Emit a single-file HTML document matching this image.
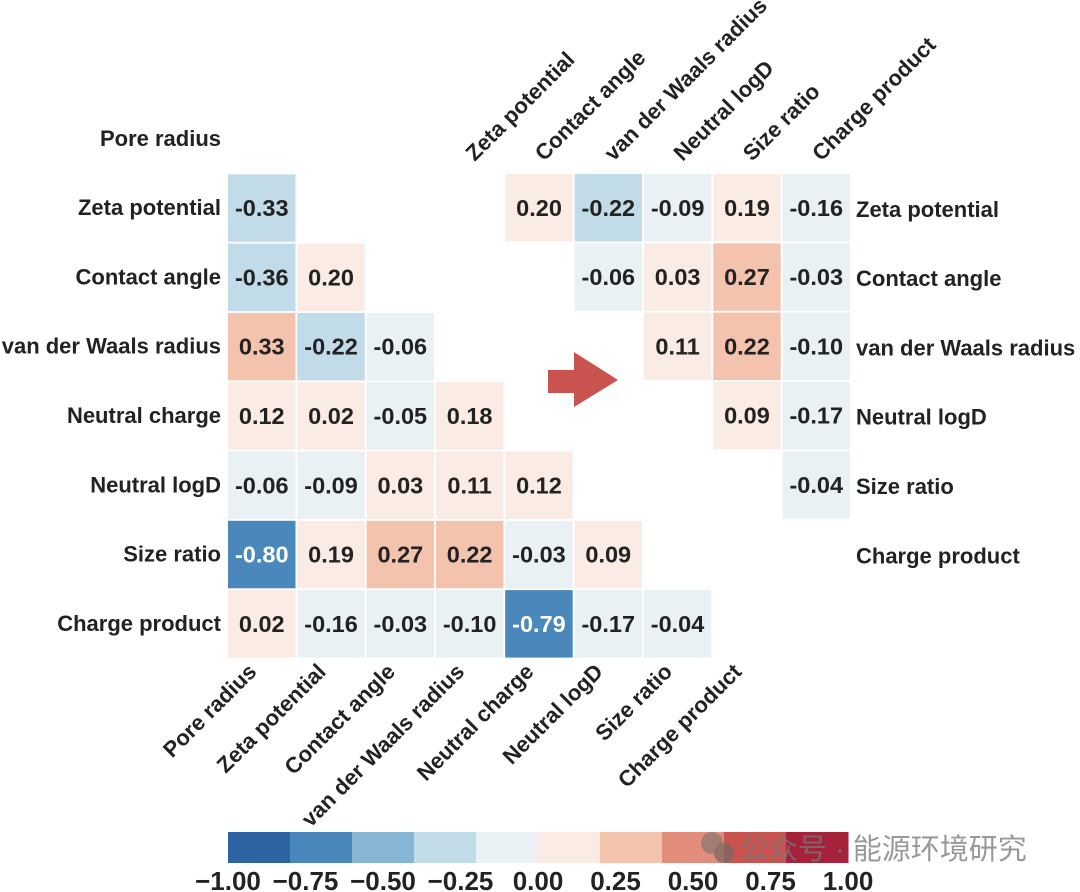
<!DOCTYPE html>
<html><head><meta charset="utf-8"><style>
html,body{margin:0;padding:0;background:#fff;}
svg{display:block;font-family:"Liberation Sans","Noto Sans CJK SC",sans-serif;}
</style></head><body>
<svg id="chart" width="1080" height="892" viewBox="0 0 1080 892"></svg>
<script>
const leftLabels = ["Pore radius","Zeta potential","Contact angle","van der Waals radius","Neutral charge","Neutral logD","Size ratio","Charge product"];
const leftValues = [
 [],
 [-0.33],
 [-0.36,0.20],
 [0.33,-0.22,-0.06],
 [0.12,0.02,-0.05,0.18],
 [-0.06,-0.09,0.03,0.11,0.12],
 [-0.80,0.19,0.27,0.22,-0.03,0.09],
 [0.02,-0.16,-0.03,-0.10,-0.79,-0.17,-0.04]
];
const rightLabels = ["Zeta potential","Contact angle","van der Waals radius","Neutral logD","Size ratio","Charge product"];
const rightValues = [
 [null,0.20,-0.22,-0.09,0.19,-0.16],
 [null,null,-0.06,0.03,0.27,-0.03],
 [null,null,null,0.11,0.22,-0.10],
 [null,null,null,null,0.09,-0.17],
 [null,null,null,null,null,-0.04],
 [null,null,null,null,null,null]
];
const cbarColors = ["#2e64a4","#4a88bb","#86b6d3","#c2dbe8","#e9f1f5","#faebe4","#f4c3ae","#e28c7b","#c9534f","#a6223b"];
const cbarTicks = [-1.00,-0.75,-0.50,-0.25,0.00,0.25,0.50,0.75,1.00];

const NS="http://www.w3.org/2000/svg";
const svg=document.getElementById('chart');
function mk(tag,attrs,parent){const e=document.createElementNS(NS,tag);for(const k in attrs)e.setAttribute(k,attrs[k]);(parent||svg).appendChild(e);return e;}
const X0=228, Y0=105, P=69.3, CS=67.5;
const cx=i=>X0+i*P, cy=j=>Y0+j*P;
function colorOf(v){const w=v-Math.sign(v)*1e-4;let k=Math.floor((w+1)/0.2);k=Math.max(0,Math.min(9,k));return cbarColors[k];}
function fmt(v){return v.toFixed(2);}

leftValues.forEach((row,j)=>{row.forEach((v,i)=>{
  const r=mk('rect',{x:cx(i),y:cy(j),width:CS,height:CS,fill:colorOf(v)});
  
  
  const t=mk('text',{x:cx(i)+CS/2,y:cy(j)+CS/2+8,'text-anchor':'middle','font-size':23.5,'font-weight':'bold',fill:Math.abs(v)>0.6?'#fff':'#222'});
  t.textContent=fmt(v);
  
  
});});
leftLabels.forEach((l,j)=>{
  const t=mk('text',{x:221,y:cy(j)+CS/2+7,'text-anchor':'end','font-size':22,'font-weight':'bold',fill:'#222'});
  t.textContent=l;
  
  
});
leftLabels.forEach((l,i)=>{
  const x=cx(i)+CS/2-4, y=673;
  const t=mk('text',{x:x,y:y,'text-anchor':'end','font-size':22,'font-weight':'bold',fill:'#222',transform:'rotate(-45 '+x+' '+y+')'});
  t.textContent=l;
  
  
});
const RX=436, RY=174;
rightValues.forEach((row,j)=>{row.forEach((v,i)=>{
  if(v===null)return;
  const x=RX+i*P,y=RY+j*P;
  const r=mk('rect',{x:x,y:y,width:CS,height:CS,fill:colorOf(v)});
  
  
  const t=mk('text',{x:x+CS/2,y:y+CS/2+8,'text-anchor':'middle','font-size':23.5,'font-weight':'bold',fill:Math.abs(v)>0.6?'#fff':'#222'});
  t.textContent=fmt(v);
  
  
});});
rightLabels.forEach((l,j)=>{
  const t=mk('text',{x:856,y:RY+j*P+CS/2+9,'font-size':22,'font-weight':'bold',fill:'#222'});
  t.textContent=l;
  
  
});
rightLabels.forEach((l,i)=>{
  const x=RX+i*P+CS/2+5, y=162;
  const t=mk('text',{x:x,y:y,'font-size':22,'font-weight':'bold',fill:'#222',transform:'rotate(-45 '+x+' '+y+')'});
  t.textContent=l;
  
  
});
const ar=mk('polygon',{points:'548,370 574,370 574,352 618,380 574,407 574,393 548,393',fill:'#c9534f'});


const CBX=228,CBW=620,CBY=832,CBH=31;
const cbx=v=>CBX+(v+1)/2*CBW;
cbarColors.forEach((c,k)=>{
  const r=mk('rect',{x:CBX+k*CBW/10,y:CBY,width:CBW/10+0.5,height:CBH,fill:c});
  
  
});
cbarTicks.forEach(v=>{
  const t=mk('text',{x:cbx(v),y:890,'text-anchor':'middle','font-size':26,'font-weight':'bold',fill:'#222'});
  t.textContent=(v<0?'\u2212':'')+Math.abs(v).toFixed(2);
  
  
});
const wg=mk('g',{opacity:0.75});


mk('circle',{cx:712,cy:843,r:11,fill:'#8a7a72'},wg);
mk('circle',{cx:724,cy:853,r:10,fill:'#7a6a62'},wg);
const wt=mk('text',{x:740,y:859,'font-size':29,fill:'#777'},wg);
wt.textContent='公众号 · 能源环境研究';
</script>
</body></html>
